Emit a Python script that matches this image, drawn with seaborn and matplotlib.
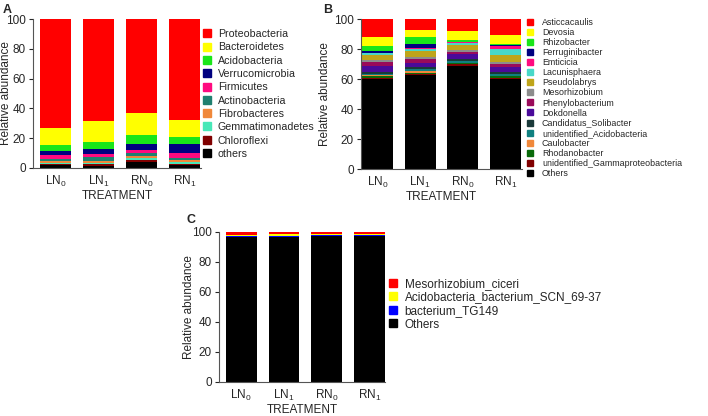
import pandas as pd
import seaborn as sns
import matplotlib
matplotlib.use('Agg')
import matplotlib.pyplot as plt
from matplotlib.lines import Line2D

sns.set_style('ticks')
plt.rcParams['font.family'] = ['Liberation Sans', 'DejaVu Sans']
plt.rcParams['mathtext.fontset'] = 'custom'
plt.rcParams['mathtext.rm'] = 'Liberation Sans'

treatments = [r'LN$_0$', r'LN$_1$', r'RN$_0$', r'RN$_1$']

# panel A - phylum level (legend order, top of stack first)
phyla = ['Proteobacteria', 'Bacteroidetes', 'Acidobacteria', 'Verrucomicrobia', 'Firmicutes',
         'Actinobacteria', 'Fibrobacteres', 'Gemmatimonadetes', 'Chloroflexi', 'others']
phyla_colors = ['#ff0000', '#ffff00', '#19e619', '#000080', '#ff0a7f',
                '#1f8070', '#f0883a', '#48e8b8', '#800000', '#000000']
ln0_a = [73.4, 11.0, 4.3, 2.9, 2.2, 1.7, 1.3, 0.8, 0.6, 1.8]
ln1_a = [68.6, 14.1, 4.5, 3.1, 2.5, 2.5, 1.3, 0.9, 0.9, 1.6]
rn0_a = [63.0, 14.8, 6.0, 3.8, 2.6, 1.5, 1.5, 1.6, 1.0, 4.2]
rn1_a = [67.8, 11.6, 4.5, 5.8, 3.4, 1.5, 1.6, 0.9, 0.9, 2.0]

# panel B - genus level
genera = ['Asticcacaulis', 'Devosia', 'Rhizobacter', 'Ferruginibacter', 'Emticicia',
          'Lacunisphaera', 'Pseudolabrys', 'Mesorhizobium', 'Phenylobacterium', 'Dokdonella',
          'Candidatus_Solibacter', 'unidentified_Acidobacteria', 'Caulobacter', 'Rhodanobacter',
          'unidentified_Gammaproteobacteria', 'Others']
genera_colors = ['#ff0000', '#ffff00', '#19e619', '#000080', '#ff0a7f',
                 '#48d8c8', '#bfa51a', '#8c8c8c', '#9a0a5a', '#4a0a9a',
                 '#1a3a3a', '#108080', '#f0883a', '#0a6a0a', '#800000', '#000000']
ln0_b = [12.2, 5.8, 3.6, 0.8, 0.4, 1.2, 3.3, 1.2, 2.8, 4.0, 1.5, 0.8, 0.6, 1.0, 0.8, 60.0]
ln1_b = [7.2, 4.9, 4.4, 2.7, 0.7, 1.5, 3.6, 1.6, 2.4, 3.2, 1.3, 1.0, 1.6, 0.6, 0.8, 62.5]
rn0_b = [8.2, 5.6, 1.2, 0.5, 0.4, 1.2, 3.6, 1.0, 1.8, 3.0, 1.5, 1.0, 0.5, 0.8, 0.7, 69.0]
rn1_b = [10.7, 6.2, 0.6, 0.4, 2.0, 4.3, 4.4, 1.2, 2.0, 3.5, 1.2, 1.2, 0.6, 0.8, 0.7, 60.2]

# panel C - species level
species = ['Mesorhizobium_ciceri', 'Acidobacteria_bacterium_SCN_69-37', 'bacterium_TG149', 'Others']
species_colors = ['#ff0000', '#ffff00', '#0000ff', '#000000']
ln0_c = [1.8, 0.8, 0.6, 96.8]
ln1_c = [1.6, 1.0, 0.4, 97.0]
rn0_c = [1.0, 1.3, 0.5, 97.2]
rn1_c = [1.2, 1.0, 0.5, 97.3]

W, H = 708, 416
fig = plt.figure(figsize=(W / 100, H / 100), dpi=100)


def px_axes(left, top, right, bottom):
    return fig.add_axes([left / W, 1 - bottom / H, (right - left) / W, (bottom - top) / H])


def stacked(ax, names, colors, rows, xlim, ylab_x, leg_anchor, leg_size, leg_space,
            marker_size, text_pad):
    df = pd.DataFrame(rows, index=treatments, columns=names)
    cum = df[names[::-1]].cumsum(axis=1)
    # draw tallest first, each lower layer covers the part below it
    for name, col in zip(names, colors):
        sns.barplot(x=treatments, y=cum[name].values, color=col, width=0.72,
                    saturation=1, errorbar=None, linewidth=0, ax=ax)
    ax.set_ylim(0, 100)
    ax.set_xlim(*xlim)
    ax.set_yticks([0, 20, 40, 60, 80, 100])
    ax.set_ylabel('Relative abundance', fontsize=8.5)
    ax.yaxis.set_label_coords(ylab_x, 0.5)
    ax.set_xlabel('TREATMENT', fontsize=8.5, labelpad=1)
    ax.tick_params(axis='both', labelsize=8.5, length=3, width=0.8, pad=2)
    ax.tick_params(axis='x', length=0, pad=4)
    sns.despine(ax=ax)
    for s in ['left', 'bottom']:
        ax.spines[s].set_linewidth(0.8)
        ax.spines[s].set_color('#555555')
    handles = [Line2D([], [], marker='s', linestyle='', color=c, markersize=marker_size)
               for c in colors]
    ax.legend(handles, names, loc='upper left', bbox_to_anchor=leg_anchor,
              bbox_transform=fig.transFigure, frameon=False, fontsize=leg_size,
              handlelength=0.8, handletextpad=text_pad, labelspacing=leg_space,
              borderpad=0, borderaxespad=0)


ax_a = px_axes(33, 19, 201, 168)
stacked(ax_a, phyla, phyla_colors, [ln0_a, ln1_a, rn0_a, rn1_a],
        (-0.52, 3.38), -0.125, (203 / W, 1 - 29 / H), 7.7, 0.31, 5.5, 0.6)

ax_b = px_axes(361, 19, 522, 169)
stacked(ax_b, genera, genera_colors, [ln0_b, ln1_b, rn0_b, rn1_b],
        (-0.38, 3.38), -0.186, (526 / W, 1 - 18 / H), 6.4, 0.12, 4.5, 1.0)

ax_c = px_axes(219, 232, 385, 382)
stacked(ax_c, species, species_colors, [ln0_c, ln1_c, rn0_c, rn1_c],
        (-0.52, 3.37), -0.145, (388 / W, 1 - 278 / H), 8.5, 0.13, 5.5, 0.6)

fig.text(3 / W, 1 - 10 / H, 'A', fontsize=9, fontweight='bold', va='center')
fig.text(323 / W, 1 - 10 / H, 'B', fontsize=9, fontweight='bold', va='center')
fig.text(186 / W, 1 - 220 / H, 'C', fontsize=9, fontweight='bold', va='center')

fig.savefig('out.png', dpi=100)
